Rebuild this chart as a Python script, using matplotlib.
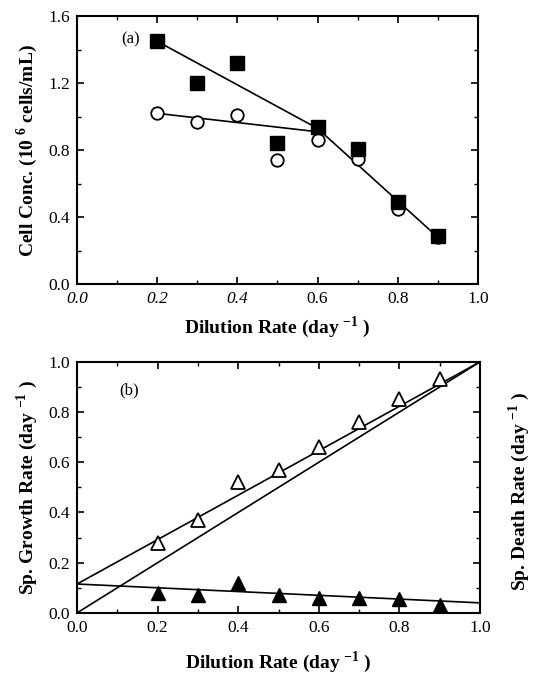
import matplotlib.pyplot as plt
from matplotlib.ticker import MultipleLocator

plt.rcParams['font.family'] = ['Liberation Serif', 'DejaVu Serif']
plt.rcParams['mathtext.fontset'] = 'custom'
plt.rcParams['mathtext.rm'] = 'Liberation Serif'
plt.rcParams['mathtext.bf'] = 'Liberation Serif:bold'

# panel (a): cell concentration vs dilution rate
D = [0.2, 0.3, 0.4, 0.5, 0.6, 0.7, 0.8, 0.9]
total = [1.45, 1.20, 1.32, 0.84, 0.94, 0.81, 0.49, 0.29]
viable = [1.02, 0.97, 1.01, 0.74, 0.86, 0.75, 0.45, 0.28]
fit_total_x = [0.2, 0.6, 0.9]
fit_total_y = [1.45, 0.93, 0.28]
fit_viable_x = [0.2, 0.6]
fit_viable_y = [1.02, 0.91]

# panel (b): specific growth / death rates
growth = [0.28, 0.37, 0.52, 0.57, 0.66, 0.76, 0.85, 0.93]
death = [0.08, 0.07, 0.12, 0.07, 0.06, 0.06, 0.055, 0.03]
fit_growth_x = [0.0, 1.0]
fit_growth_y = [0.115, 1.0]
fit_death_x = [0.0, 1.0]
fit_death_y = [0.115, 0.04]
ident_x = [0.0, 1.0]
ident_y = [0.0, 1.0]

fig = plt.figure(figsize=(5.36, 6.75), dpi=100)
ax1 = fig.add_axes([0.1437, 0.579, 0.748, 0.397])
ax2 = fig.add_axes([0.1437, 0.092, 0.752, 0.372])

lw = 1.2
ax1.plot(fit_total_x, fit_total_y, color='black', lw=lw, zorder=1)
ax1.plot(fit_viable_x, fit_viable_y, color='black', lw=lw, zorder=1)
ax1.plot(D, viable, 'o', ms=9, mfc='white', mec='black', mew=1.3, zorder=2)
ax1.plot(D, total, 's', ms=10, color='black', zorder=3)
ax1.set_xlim(0, 1.0)
ax1.set_ylim(0, 1.6)
ax1.xaxis.set_major_locator(MultipleLocator(0.2))
ax1.xaxis.set_minor_locator(MultipleLocator(0.1))
ax1.yaxis.set_major_locator(MultipleLocator(0.4))
ax1.yaxis.set_minor_locator(MultipleLocator(0.2))
ax1.yaxis.set_major_formatter(plt.FuncFormatter(lambda v, p: f'{v:.1f}'))
ax1.xaxis.set_major_formatter(plt.FuncFormatter(lambda v, p: f'{v:.1f}'))
ax1.text(0.11, 1.44, '(a)', fontsize=12)
ax1.set_xlabel('Dilution Rate (day $^{\\mathbf{-1}}$ )', fontsize=14, fontweight='bold', labelpad=5)
ax1.set_ylabel('Cell Conc. (10 $^{\\mathbf{6}}$ cells/mL)', fontsize=14, fontweight='bold', labelpad=6)

ax2.plot(ident_x, ident_y, color='black', lw=lw, zorder=1)
ax2.plot(fit_growth_x, fit_growth_y, color='black', lw=lw, zorder=1)
ax2.plot(fit_death_x, fit_death_y, color='black', lw=lw, zorder=1)
ax2.plot(D, growth, '^', ms=10, mfc='white', mec='black', mew=1.3, zorder=2)
ax2.plot(D, death, '^', ms=10, color='black', zorder=2)
ax2.set_xlim(0, 1.0)
ax2.set_ylim(0, 1.0)
ax2.xaxis.set_major_locator(MultipleLocator(0.2))
ax2.xaxis.set_minor_locator(MultipleLocator(0.1))
ax2.yaxis.set_major_locator(MultipleLocator(0.2))
ax2.yaxis.set_minor_locator(MultipleLocator(0.1))
ax2.xaxis.set_major_formatter(plt.FuncFormatter(lambda v, p: f'{v:.1f}'))
ax2.yaxis.set_major_formatter(plt.FuncFormatter(lambda v, p: f'{v:.1f}'))
ax2.text(0.105, 0.87, '(b)', fontsize=12)
ax2.set_xlabel('Dilution Rate (day $^{\\mathbf{-1}}$ )', fontsize=14, fontweight='bold', labelpad=10)
ax2.set_ylabel('Sp. Growth Rate (day $^{\\mathbf{-1}}$ )', fontsize=14, fontweight='bold', labelpad=6)
fig.text(0.968, 0.272, 'Sp. Death Rate (day $^{\\mathbf{-1}}$ )', fontsize=14, fontweight='bold',
         rotation=90, ha='center', va='center')

for ax in (ax1, ax2):
    for s in ax.spines.values():
        s.set_linewidth(1.5)
    ax.tick_params(which='both', direction='in', top=True, right=True, labelsize=12.5)
    ax.tick_params(which='major', length=5, width=1.2, pad=5)
    ax.tick_params(which='minor', length=3, width=1.0)

# scanned original prints the first three x labels of panel (a) in italics
fig.canvas.draw()
for lab in ax1.get_xticklabels():
    if lab.get_text() in ('0.0', '0.2', '0.4'):
        lab.set_style('italic')

fig.savefig('out.png', dpi=100)
